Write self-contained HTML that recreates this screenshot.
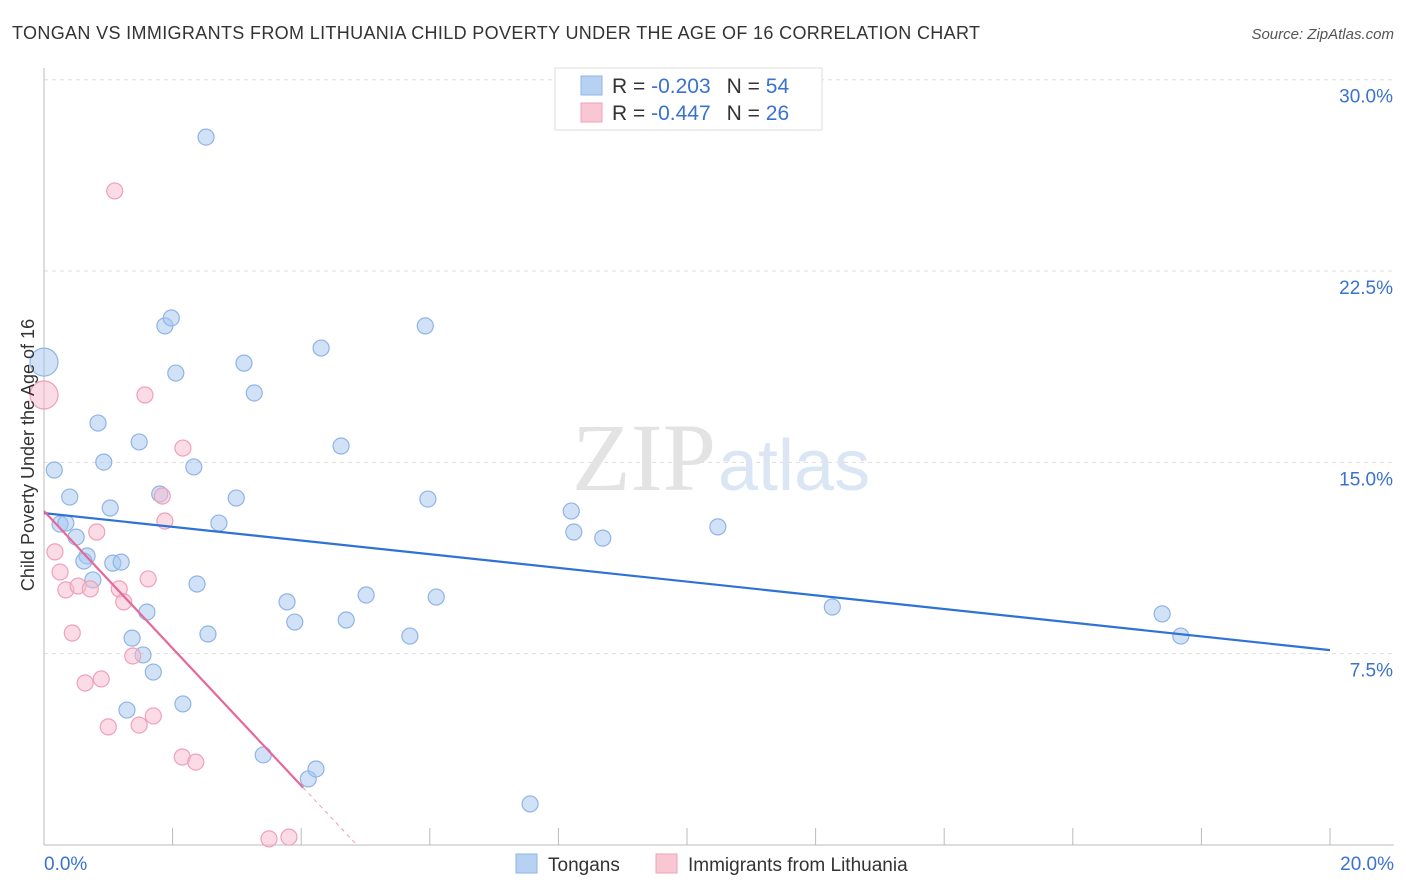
<!DOCTYPE html>
<html><head><meta charset="utf-8">
<style>
body{margin:0;background:#fff;font-family:"Liberation Sans",sans-serif;}
svg{display:block}
</style></head>
<body>
<svg id="chart" width="1406" height="892">
<text x="12" y="39" font-size="18" fill="#333" textLength="968">TONGAN VS IMMIGRANTS FROM LITHUANIA CHILD POVERTY UNDER THE AGE OF 16 CORRELATION CHART</text>
<text x="1394" y="39" font-size="15" fill="#555" font-style="italic" text-anchor="end">Source: ZipAtlas.com</text>
<g id="grid"></g>
<text x="716" y="490" font-size="96" fill="#e3e3e3" text-anchor="end" font-family="Liberation Serif">ZIP</text>
<text x="718" y="490" font-size="72" fill="#dbe6f5">atlas</text>
<g id="marks"></g>
<g>
<rect x="555" y="68" width="267" height="62" fill="#fff" stroke="#ddd"/>
<rect x="581" y="76" width="21" height="19" fill="#b7d1f3" stroke="#8fb4e6"/>
<rect x="581" y="103" width="21" height="19" fill="#f9c6d4" stroke="#f0a0b8"/>
<text x="612" y="93" font-size="21" fill="#333">R = <tspan fill="#3a72d0">-0.203</tspan><tspan dx="16">N = </tspan><tspan fill="#3a72d0">54</tspan></text>
<text x="612" y="120" font-size="21" fill="#333">R = <tspan fill="#3a72d0">-0.447</tspan><tspan dx="16">N = </tspan><tspan fill="#3a72d0"> 26</tspan></text>
</g>
<g>
<rect x="516" y="854" width="21" height="19" fill="#b7d1f3" stroke="#8fb4e6"/>
<text x="548" y="871" font-size="19" fill="#333">Tongans</text>
<rect x="656" y="854" width="21" height="19" fill="#f9c6d4" stroke="#f0a0b8"/>
<text x="688" y="871" font-size="19" fill="#333">Immigrants from Lithuania</text>
</g>
<text x="34" y="455" font-size="18" fill="#333" text-anchor="middle" transform="rotate(-90 34 455)">Child Poverty Under the Age of 16</text>
</svg>
<script>
const blueX=[0,0.16,0.40,0.25,0.34,0.50,0.84,0.93,1.03,0.67,0.62,0.76,1.07,1.20,1.48,1.60,1.37,1.54,1.70,1.29,1.80,1.88,1.98,2.05,2.33,2.38,2.16,2.55,2.72,2.99,3.11,3.27,3.41,3.78,3.90,4.11,4.23,4.31,4.62,4.70,5.01,5.69,5.93,5.97,6.10,7.56,8.20,8.24,8.69,10.48,12.26,17.39,17.68,2.52];
const blueY=[18.93,14.70,13.64,12.58,12.62,12.07,16.54,15.01,13.21,11.33,11.13,10.39,11.05,11.09,15.80,9.13,8.11,7.45,6.78,5.29,13.76,20.35,20.66,18.50,14.82,10.23,5.53,8.27,12.62,13.60,18.89,17.72,3.53,9.53,8.74,2.59,2.98,19.48,15.64,8.82,9.80,8.19,20.35,13.56,9.72,1.61,13.09,12.27,12.03,12.47,9.33,9.06,8.19,27.75];
const pinkX=[0,1.10,1.57,2.16,1.84,1.88,0.82,0.17,0.25,0.34,0.53,0.72,1.17,1.24,1.62,0.44,1.38,0.64,0.89,1.00,1.48,1.70,2.15,2.36,3.50,3.81];
const pinkY=[17.64,25.64,17.64,15.56,13.68,12.70,12.27,11.49,10.70,10.00,10.15,10.04,10.04,9.53,10.43,8.31,7.41,6.35,6.51,4.63,4.70,5.06,3.45,3.25,0.24,0.31];
const blueTrend=[13.01,7.64]; // at x=0 and x=20
const pinkTrend=[13.09,-2.69,4.03]; // intercept, slope, solid end x
const yTicks=[7.5,15,22.5,30];
const xTickVals=[0,2,4,6,8,10,12,14,16,18,20];
const NS="http://www.w3.org/2000/svg";
const xs=v=>44+v*64.3, ys=v=>845-v*25.51;
function mk(t,a,p){const e=document.createElementNS(NS,t);for(const k in a)e.setAttribute(k,a[k]);p.appendChild(e);return e;}
const grid=document.getElementById('grid'),marks=document.getElementById('marks');
yTicks.forEach(v=>{
 const l=mk('line',{x1:44,x2:1394,y1:ys(v),y2:ys(v),stroke:'#ddd','stroke-dasharray':'4,4'},grid);
 
 
 const t=mk('text',{x:1393,y:ys(v)+23,'font-size':19,fill:'#3a72d0','text-anchor':'end'},grid);
 t.textContent=v.toFixed(1)+'%';
 
 
});
mk('line',{x1:44,x2:44,y1:68,y2:845,stroke:'#bbb'},grid);
mk('line',{x1:44,x2:1394,y1:845,y2:845,stroke:'#bbb'},grid);
xTickVals.forEach((v,i)=>{if(v>0){const l=mk('line',{x1:xs(v),x2:xs(v),y1:828,y2:845,stroke:'#bbb'},grid);
 
 }});
[[0,'0.0%',44,'start'],[20,'20.0%',1394,'end']].forEach(d=>{const t=mk('text',{x:d[2],y:870,'font-size':19,fill:'#3a72d0','text-anchor':d[3]},grid);t.textContent=d[1];
 
 });
blueX.forEach((x,i)=>{const c=mk('circle',{cx:xs(x),cy:ys(blueY[i]),r:i===0?14:8,fill:'rgba(164,198,240,0.5)',stroke:'#8fb4e6','stroke-width':1.2},marks);
 
 });
pinkX.forEach((x,i)=>{const c=mk('circle',{cx:xs(x),cy:ys(pinkY[i]),r:i===0?14:8,fill:'rgba(248,184,204,0.5)',stroke:'#f0a0b8','stroke-width':1.2},marks);
 
 });
let l=mk('line',{x1:xs(0),y1:ys(blueTrend[0]),x2:xs(20),y2:ys(blueTrend[1]),stroke:'#2f72d6','stroke-width':2.2},marks);


const pEnd=pinkTrend[2], pf=x=>pinkTrend[0]+pinkTrend[1]*x;
l=mk('line',{x1:xs(0),y1:ys(pf(0)),x2:xs(pEnd),y2:ys(pf(pEnd)),stroke:'#e8679a','stroke-width':2.2},marks);


const xz=-pinkTrend[0]/pinkTrend[1];
l=mk('line',{x1:xs(pEnd),y1:ys(pf(pEnd)),x2:xs(xz),y2:ys(0),stroke:'#e8a0b8','stroke-width':1,'stroke-dasharray':'4,4'},marks);


</script>
</body></html>
